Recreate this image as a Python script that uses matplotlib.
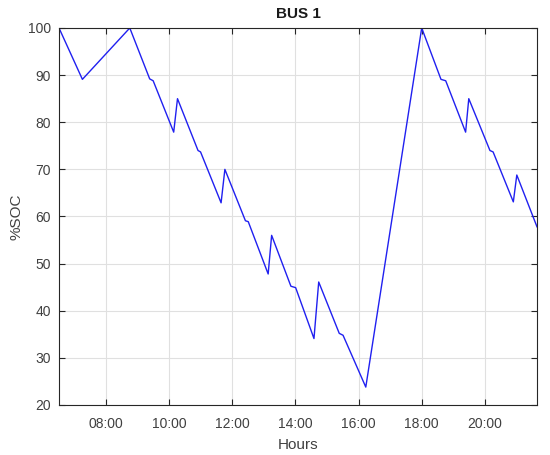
import matplotlib
matplotlib.use("Agg")
import matplotlib.pyplot as plt
from matplotlib.ticker import FuncFormatter, MultipleLocator

plt.rcParams["font.family"] = ["Liberation Sans", "DejaVu Sans"]

# state of charge of bus 1 over the day (hours as decimal)
hours = [6.52, 7.26, 8.76, 9.39, 9.50, 10.15, 10.27, 10.92, 11.00, 11.65,
         11.77, 12.42, 12.51, 13.14, 13.25, 13.86, 14.01, 14.59, 14.74, 15.39,
         15.51, 16.23, 18.00, 18.61, 18.76, 19.39, 19.49, 20.16, 20.26, 20.90,
         21.01, 21.65]
soc = [100.0, 89.1, 100.0, 89.2, 88.8, 77.9, 85.0, 74.0, 73.7, 62.9,
       70.0, 59.1, 58.9, 47.8, 56.0, 45.2, 44.9, 34.1, 46.1, 35.2,
       34.8, 23.8, 100.0, 89.1, 88.8, 77.9, 85.0, 74.0, 73.7, 63.1,
       68.8, 57.8]

TXT = "#404040"
EDGE = "#262626"

fig = plt.figure(figsize=(5.5, 4.55), dpi=100)
ax = fig.add_axes([0.1073, 0.1099, 0.8691, 0.8286])

ax.plot(hours, soc, color="#2020f0", lw=1.0)

ax.set_xlim(hours[0], hours[-1])
ax.set_ylim(20, 100)
ax.xaxis.set_major_locator(MultipleLocator(2))
ax.yaxis.set_major_locator(MultipleLocator(10))
ax.xaxis.set_major_formatter(FuncFormatter(lambda v, _: f"{int(v):02d}:00"))

ax.grid(True, color="#e0e0e0", lw=0.8)
ax.set_axisbelow(True)
ax.tick_params(direction="in", top=True, right=True, length=4, width=0.8,
               colors=EDGE, labelcolor=TXT, labelsize=10, pad=6)
ax.tick_params(axis="x", pad=9)
for s in ax.spines.values():
    s.set_color(EDGE)
    s.set_linewidth(0.8)

ax.set_title("BUS 1", fontsize=11, fontweight="bold", color="#1a1a1a", pad=7)
ax.set_xlabel("Hours", fontsize=11, color=TXT, labelpad=5)
ax.set_ylabel("%SOC", fontsize=11, color=TXT, labelpad=3)

fig.savefig("out.png", dpi=100)
